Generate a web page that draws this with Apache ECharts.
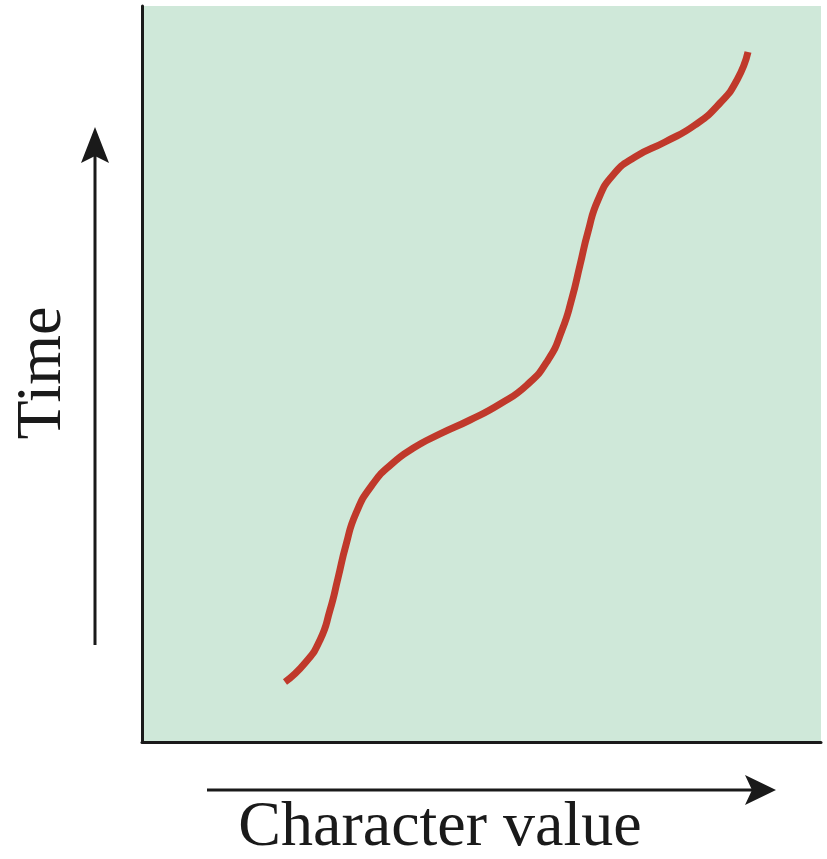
<!DOCTYPE html>
<html><head><meta charset="utf-8">
<script src="https://cdn.jsdelivr.net/npm/echarts@6/dist/echarts.min.js"></script>
<style>html,body{margin:0;padding:0;background:#fff}#c{width:827px;height:859px}</style>
</head><body><div id="c"></div>
<script>
const characterValue = [21.06, 24.01, 26.22, 27.69, 28.87, 30.04, 31.52, 33.87, 36.80, 39.91, 43.89, 48.31, 52.72, 56.70, 59.79, 61.86, 63.33, 64.51, 65.68, 67.16, 69.37, 72.61, 77.03, 81.44, 85.13, 87.63, 89.25];
const timeValue      = [8.15, 10.73, 13.86, 17.93, 22.28, 26.77, 31.10, 34.90, 37.80, 39.90, 41.85, 43.75, 45.92, 48.51, 51.90, 55.98, 60.33, 64.81, 69.29, 73.64, 77.04, 79.48, 81.52, 83.83, 86.82, 89.95, 93.75];
const xTitle = 'Character value';
const yTitle = 'Time';

const chart = echarts.init(document.getElementById('c'));
const serif = '"Liberation Serif", "DejaVu Serif", serif';
chart.setOption({
  animation: false,
  grid: { left: 142, right: 6, top: 6, bottom: 117, show: true, backgroundColor: '#cfe8d9', borderWidth: 0 },
  xAxis: { type: 'value', min: 0, max: 100, axisLine: { show: true, lineStyle: { color: '#1a1a1a', width: 3 } },
           axisTick: { show: false }, axisLabel: { show: false }, splitLine: { show: false } },
  yAxis: { type: 'value', min: 0, max: 100, axisLine: { show: true, lineStyle: { color: '#1a1a1a', width: 3 } },
           axisTick: { show: false }, axisLabel: { show: false }, splitLine: { show: false } },
  series: [{
    type: 'line', smooth: 0.55, symbol: 'none',
    data: characterValue.map((x, i) => [x, timeValue[i]]),
    lineStyle: { color: '#c0392b', width: 7, cap: 'butt' }
  }],
  graphic: [
    { type: 'line', shape: { x1: 207, y1: 790, x2: 755, y2: 790 }, style: { stroke: '#1a1a1a', lineWidth: 3 } },
    { type: 'polygon', shape: { points: [[776, 790], [745, 775], [752, 790], [745, 805]] }, style: { fill: '#1a1a1a' } },
    { type: 'line', shape: { x1: 95, y1: 645, x2: 95, y2: 150 }, style: { stroke: '#1a1a1a', lineWidth: 3 } },
    { type: 'polygon', shape: { points: [[95, 127], [81, 163], [95, 156], [109, 163]] }, style: { fill: '#1a1a1a' } },
    { type: 'text', x: 440, y: 828, style: { text: xTitle, font: '64px ' + serif, fill: '#1a1a1a', align: 'center', verticalAlign: 'middle' } },
    { type: 'text', x: 43, y: 373, rotation: Math.PI / 2, style: { text: yTitle, font: '64px ' + serif, fill: '#1a1a1a', align: 'center', verticalAlign: 'middle' } }
  ]
});
</script></body></html>
